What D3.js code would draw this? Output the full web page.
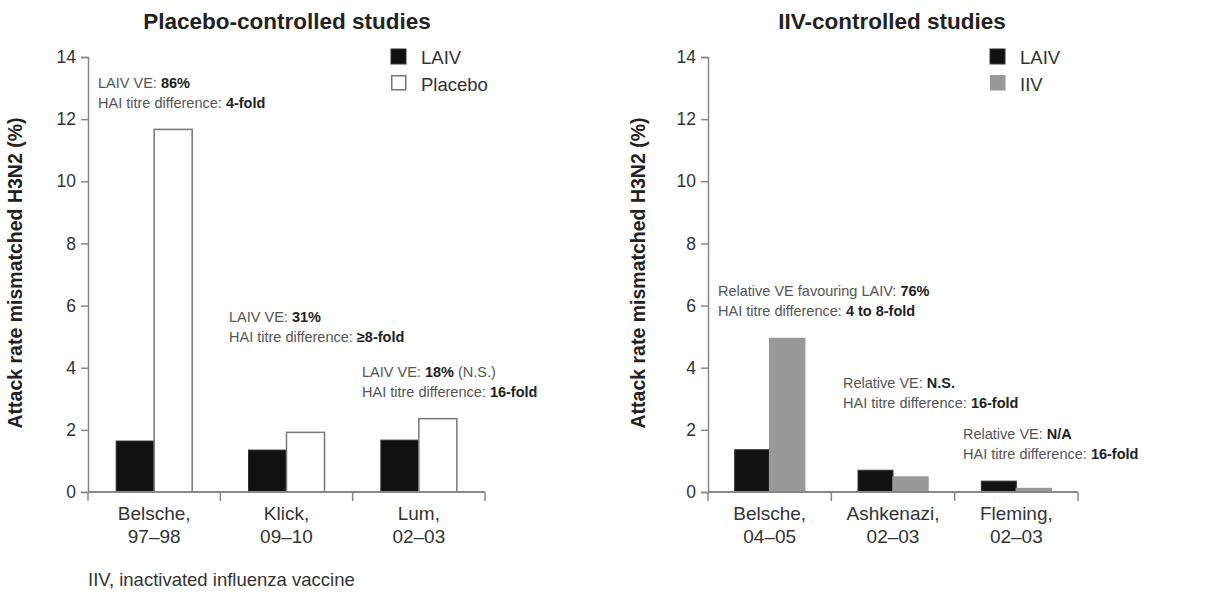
<!DOCTYPE html>
<html>
<head>
<meta charset="utf-8">
<script src="https://cdn.jsdelivr.net/npm/d3@7"></script>
<style>
  body { margin: 0; background: #fff; }
  svg { font-family: "Liberation Sans", Arial, sans-serif; }
  .tick text { fill: #333; }
</style>
</head>
<body>
<svg width="1223" height="596"></svg>
<script>
// Data
var placeboStudies = [["Belsche,", "97\u201398"], ["Klick,", "09\u201310"], ["Lum,", "02\u201303"]];
var placeboLaiv = [1.64, 1.35, 1.67];
var placeboCtrl = [11.67, 1.92, 2.36];
var placeboNotes = [
  [["LAIV VE: ", "86%", ""], ["HAI titre difference: ", "4-fold", ""]],
  [["LAIV VE: ", "31%", ""], ["HAI titre difference: ", "\u22658-fold", ""]],
  [["LAIV VE: ", "18%", " (N.S.)"], ["HAI titre difference: ", "16-fold", ""]]
];
var placeboNoteValue = [13.0, 5.47, 3.7];

var iivStudies = [["Belsche,", "04\u201305"], ["Ashkenazi,", "02\u201303"], ["Fleming,", "02\u201303"]];
var iivLaiv = [1.36, 0.70, 0.35];
var iivCtrl = [4.94, 0.48, 0.11];
var iivNotes = [
  [["Relative VE favouring LAIV: ", "76%", ""], ["HAI titre difference: ", "4 to 8-fold", ""]],
  [["Relative VE: ", "N.S.", ""], ["HAI titre difference: ", "16-fold", ""]],
  [["Relative VE: ", "N/A", ""], ["HAI titre difference: ", "16-fold", ""]]
];
var iivNoteValue = [6.3, 3.35, 1.7];

var yTicks = [0, 2, 4, 6, 8, 10, 12, 14];

var svg = d3.select("svg");

function drawPanel(opt) {
  var g = svg.append("g").attr("transform", "translate(" + opt.left + ",0)");
  var y = d3.scaleLinear().domain([0, 14]).range([492, 57]);
  var x = d3.scaleBand().domain(d3.range(opt.studies.length)).range([0, opt.width]);
  var barW = opt.barW;

  // title
  g.append("text")
      .attr("x", opt.titleX)
      .attr("y", 29)
      .attr("text-anchor", "middle")
      .style("font-size", "22.5px")
      .style("font-weight", "bold")
      .attr("fill", "#222")
      .text(opt.title);

  // y axis label
  g.append("text")
      .attr("transform", "translate(" + opt.labelX + ",273) rotate(-90)")
      .attr("text-anchor", "middle")
      .style("font-size", "19.5px")
      .style("font-weight", "bold")
      .attr("fill", "#222")
      .text("Attack rate mismatched H3N2 (%)");

  // bars
  var grp = g.selectAll(".study")
      .data(opt.studies.map(function(d, i) { return { i: i, a: opt.laiv[i], b: opt.ctrl[i] }; }))
      .enter().append("g")
      .attr("class", "study");

  grp.append("rect")
      .attr("x", function(d) { return x(d.i) + x.bandwidth() / 2 - barW; })
      .attr("y", function(d) { return y(d.a); })
      .attr("width", barW)
      .attr("height", function(d) { return y(0) - y(d.a); })
      .attr("fill", "#111")
      .attr("stroke", "#333")
      .attr("stroke-width", 1);

  grp.append("rect")
      .attr("x", function(d) { return x(d.i) + x.bandwidth() / 2; })
      .attr("y", function(d) { return y(d.b); })
      .attr("width", barW)
      .attr("height", function(d) { return y(0) - y(d.b); })
      .attr("fill", opt.ctrlFill)
      .attr("stroke", opt.ctrlStroke)
      .attr("stroke-width", 1.5);

  // axes
  var yAxis = g.append("g")
      .call(d3.axisLeft(y).tickValues(yTicks).tickSize(7).tickPadding(5));
  yAxis.select(".domain").attr("stroke", "#888").attr("stroke-width", 1.5);
  yAxis.selectAll(".tick line").attr("stroke", "#888").attr("stroke-width", 1.5);
  yAxis.selectAll(".tick text").style("font-size", "17.5px").style("font-family", "Liberation Sans, Arial, sans-serif");

  var xAxis = g.append("g")
      .attr("transform", "translate(0," + y(0) + ")");
  xAxis.append("line")
      .attr("x1", 0).attr("x2", opt.width)
      .attr("stroke", "#888").attr("stroke-width", 2);
  xAxis.selectAll(".xt")
      .data(d3.range(opt.studies.length + 1))
      .enter().append("line")
      .attr("x1", function(d) { return d * x.step(); })
      .attr("x2", function(d) { return d * x.step(); })
      .attr("y1", 0).attr("y2", 9)
      .attr("stroke", "#888").attr("stroke-width", 1.5);

  var labels = xAxis.selectAll(".xl")
      .data(opt.studies)
      .enter().append("text")
      .attr("text-anchor", "middle")
      .attr("fill", "#333")
      .style("font-size", "19px")
      .attr("transform", function(d, i) { return "translate(" + (x(i) + x.bandwidth() / 2) + ",28)"; });
  labels.append("tspan").attr("x", 0).attr("y", 0).text(function(d) { return d[0]; });
  labels.append("tspan").attr("x", 0).attr("y", 23).text(function(d) { return d[1]; });

  // annotations
  opt.notes.forEach(function(note, i) {
    var t = g.append("text")
        .attr("x", opt.noteX[i])
        .attr("y", y(opt.noteY[i]))
        .style("font-size", "14.5px")
        .attr("fill", "#555");
    note.forEach(function(line, j) {
      t.append("tspan")
          .attr("x", opt.noteX[i])
          .attr("dy", j === 0 ? 0 : 20)
          .text(line[0]);
      t.append("tspan").style("font-weight", "bold").attr("fill", "#222").text(line[1]);
      if (line[2]) t.append("tspan").text(line[2]);
    });
  });

  // legend
  var leg = g.append("g").attr("transform", "translate(" + opt.legendX + ",49)");
  leg.append("rect").attr("x", 0).attr("y", 0).attr("width", 15).attr("height", 15)
      .attr("fill", "#111").attr("stroke", "#333");
  leg.append("rect").attr("x", 0.75).attr("y", 26.75).attr("width", 14).attr("height", 14)
      .attr("fill", opt.ctrlFill).attr("stroke", opt.ctrlStroke).attr("stroke-width", 1.5);
  leg.append("text").attr("x", 30).attr("y", 15).style("font-size", "18.5px").attr("fill", "#333").text("LAIV");
  leg.append("text").attr("x", 30).attr("y", 42).style("font-size", "18.5px").attr("fill", "#333").text(opt.ctrlName);
}

drawPanel({
  left: 88, width: 397, barW: 38, labelX: -66,
  title: "Placebo-controlled studies", titleX: 199,
  studies: placeboStudies, laiv: placeboLaiv, ctrl: placeboCtrl,
  ctrlName: "Placebo", ctrlFill: "#fff", ctrlStroke: "#777",
  notes: placeboNotes, noteY: placeboNoteValue, noteX: [10, 141, 274],
  legendX: 303
});

drawPanel({
  left: 708, width: 370, barW: 35, labelX: -63,
  title: "IIV-controlled studies", titleX: 184,
  studies: iivStudies, laiv: iivLaiv, ctrl: iivCtrl,
  ctrlName: "IIV", ctrlFill: "#999", ctrlStroke: "#999",
  notes: iivNotes, noteY: iivNoteValue, noteX: [10, 135, 255],
  legendX: 282
});

svg.append("text")
    .attr("x", 88)
    .attr("y", 586)
    .style("font-size", "18.5px")
    .attr("fill", "#333")
    .text("IIV, inactivated influenza vaccine");
</script>
</body>
</html>
